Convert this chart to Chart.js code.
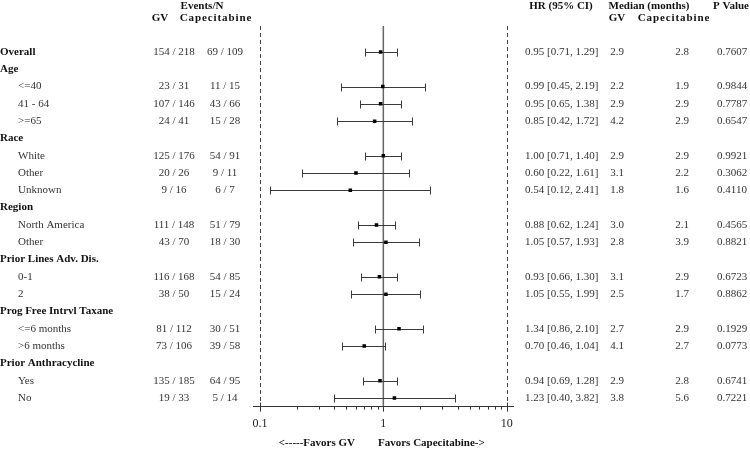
<!DOCTYPE html>
<html>
<head>
<meta charset="utf-8">
<script src="https://cdn.jsdelivr.net/npm/chart.js@4/dist/chart.umd.min.js"></script>
<style>
  html, body { margin: 0; padding: 0; background: #fff; }
  #wrap { width: 750px; height: 451px; }
</style>
</head>
<body>
<div id="wrap"><canvas id="forest" width="750" height="451"></canvas></div>
<script>
// rows of the forest plot, top to bottom
var rowLabels = ['Overall', 'Age', '<=40', '41 - 64', '>=65', 'Race', 'White', 'Other', 'Unknown',
  'Region', 'North America', 'Other', 'Prior Lines Adv. Dis.', '0-1', '2',
  'Prog Free Intrvl Taxane', '<=6 months', '>6 months', 'Prior Anthracycline', 'Yes', 'No'];
var rowBold = [1, 1, 0, 0, 0, 1, 0, 0, 0, 1, 0, 0, 1, 0, 0, 1, 0, 0, 1, 0, 0];

var hr   = [0.95, null, 0.99, 0.95, 0.85, null, 1.00, 0.60, 0.54, null, 0.88, 1.05, null, 0.93, 1.05, null, 1.34, 0.70, null, 0.94, 1.23];
var ciLo = [0.71, null, 0.45, 0.65, 0.42, null, 0.71, 0.22, 0.12, null, 0.62, 0.57, null, 0.66, 0.55, null, 0.86, 0.46, null, 0.69, 0.40];
var ciHi = [1.29, null, 2.19, 1.38, 1.72, null, 1.40, 1.61, 2.41, null, 1.24, 1.93, null, 1.30, 1.99, null, 2.10, 1.04, null, 1.28, 3.82];

var eventsGV   = ['154 / 218', '', '23 / 31', '107 / 146', '24 / 41', '', '125 / 176', '20 / 26', '9 / 16', '', '111 / 148', '43 / 70', '', '116 / 168', '38 / 50', '', '81 / 112', '73 / 106', '', '135 / 185', '19 / 33'];
var eventsCape = ['69 / 109', '', '11 / 15', '43 / 66', '15 / 28', '', '54 / 91', '9 / 11', '6 / 7', '', '51 / 79', '18 / 30', '', '54 / 85', '15 / 24', '', '30 / 51', '39 / 58', '', '64 / 95', '5 / 14'];
var medianGV   = ['2.9', '', '2.2', '2.9', '4.2', '', '2.9', '3.1', '1.8', '', '3.0', '2.8', '', '3.1', '2.5', '', '2.7', '4.1', '', '2.9', '3.8'];
var medianCape = ['2.8', '', '1.9', '2.9', '2.9', '', '2.9', '2.2', '1.6', '', '2.1', '3.9', '', '2.9', '1.7', '', '2.9', '2.7', '', '2.8', '5.6'];
var pValues    = ['0.7607', '', '0.9844', '0.7787', '0.6547', '', '0.9921', '0.3062', '0.4110', '', '0.4565', '0.8821', '', '0.6723', '0.8862', '', '0.1929', '0.0773', '', '0.6741', '0.7221'];

var tickValues = [0.1, 0.2, 0.3, 0.4, 0.5, 0.6, 0.7, 0.8, 0.9, 1, 2, 3, 4, 5, 6, 7, 8, 9, 10];
var majorTicks = [0.1, 1, 10];

var SERIF = '"Liberation Serif", "Times New Roman", serif';
var TEXT = '#333';

var points = [];
for (var i = 0; i < hr.length; i++) {
  if (hr[i] != null) points.push({ x: hr[i], y: i });
}

// reference lines + confidence interval whiskers, under the points
var whiskerPlugin = {
  id: 'whiskers',
  beforeDatasetsDraw: function (chart) {
    var ctx = chart.ctx, xs = chart.scales.x, ys = chart.scales.y, area = chart.chartArea;
    ctx.save();
    // dashed bounds at 0.1 and 10
    ctx.strokeStyle = '#444';
    ctx.lineWidth = 1;
    ctx.setLineDash([4, 3]);
    [0.1, 10].forEach(function (v) {
      var px = Math.round(xs.getPixelForValue(v)) + 0.5;
      ctx.beginPath(); ctx.moveTo(px, area.top); ctx.lineTo(px, area.bottom); ctx.stroke();
    });
    ctx.setLineDash([]);
    // line of no effect
    ctx.strokeStyle = '#666';
    ctx.lineWidth = 1.5;
    var p1 = xs.getPixelForValue(1);
    ctx.beginPath(); ctx.moveTo(p1, area.top); ctx.lineTo(p1, area.bottom); ctx.stroke();
    // whiskers
    ctx.strokeStyle = '#3a3a3a';
    ctx.lineWidth = 1;
    for (var i = 0; i < hr.length; i++) {
      if (hr[i] == null) continue;
      var y = Math.round(ys.getPixelForValue(i)) + 0.5;
      var a = Math.round(xs.getPixelForValue(ciLo[i])) + 0.5;
      var b = Math.round(xs.getPixelForValue(ciHi[i])) + 0.5;
      ctx.beginPath();
      ctx.moveTo(a, y); ctx.lineTo(b, y);
      ctx.moveTo(a, y - 4); ctx.lineTo(a, y + 4);
      ctx.moveTo(b, y - 4); ctx.lineTo(b, y + 4);
      ctx.stroke();
    }
    ctx.restore();
  },
  afterDraw: function (chart) {
    var ctx = chart.ctx, xs = chart.scales.x, ys = chart.scales.y, area = chart.chartArea;
    ctx.save();
    // axis tick marks
    ctx.strokeStyle = '#333';
    ctx.lineWidth = 1;
    tickValues.forEach(function (v) {
      var px = Math.round(xs.getPixelForValue(v)) + 0.5;
      var major = majorTicks.indexOf(v) >= 0;
      ctx.beginPath();
      ctx.moveTo(px, area.bottom - (major && v !== 1 ? 4 : 0));
      ctx.lineTo(px, area.bottom + (major ? 5 : 3));
      ctx.stroke();
    });

    ctx.textBaseline = 'middle';
    ctx.fillStyle = '#111';
    ctx.font = 'bold 11px ' + SERIF;
    // column headers
    ctx.textAlign = 'center';
    ctx.fillText('Events/N', 202, 6);
    ctx.fillText('GV', 160, 18);
    ctx.fillText('HR (95% CI)', 561, 6);
    ctx.fillText('Median (months)', 649, 6);
    ctx.fillText('GV', 617, 18);
    ctx.textAlign = 'right';
    ctx.fillText('P Value', 749, 6);
    ctx.textAlign = 'center';
    ctx.letterSpacing = '0.9px';
    ctx.fillText('Capecitabine', 216, 18);
    ctx.fillText('Capecitabine', 674, 18);
    ctx.letterSpacing = '0px';

    for (var i = 0; i < rowLabels.length; i++) {
      var y = ys.getPixelForValue(i);
      ctx.textAlign = 'left';
      if (rowBold[i]) {
        ctx.font = 'bold 11px ' + SERIF; ctx.fillStyle = '#111';
        ctx.fillText(rowLabels[i], 0, y);
      } else {
        ctx.font = '11px ' + SERIF; ctx.fillStyle = TEXT;
        ctx.fillText(rowLabels[i], 18, y);
      }
      ctx.font = '11px ' + SERIF; ctx.fillStyle = TEXT;
      ctx.textAlign = 'center';
      ctx.fillText(eventsGV[i], 174, y);
      ctx.fillText(eventsCape[i], 225, y);
      ctx.fillText(medianGV[i], 617, y);
      ctx.fillText(medianCape[i], 682, y);
      ctx.fillText(pValues[i], 732, y);
      if (hr[i] != null) {
        ctx.textAlign = 'left';
        ctx.fillText(hr[i].toFixed(2) + ' [' + ciLo[i].toFixed(2) + ', ' + ciHi[i].toFixed(2) + ']', 525, y);
      }
    }

    // favours captions under the axis
    ctx.font = 'bold 11px ' + SERIF; ctx.fillStyle = '#111';
    ctx.textAlign = 'right';
    ctx.fillText('<-----Favors GV', 355, 443);
    ctx.textAlign = 'left';
    ctx.fillText('Favors Capecitabine->', 378, 443);
    ctx.restore();
  }
};

new Chart(document.getElementById('forest'), {
  type: 'scatter',
  data: {
    datasets: [{
      data: points,
      pointStyle: 'rect',
      pointRadius: 2.5,
      pointHoverRadius: 2.5,
      backgroundColor: '#000',
      borderColor: '#000',
      borderWidth: 0
    }]
  },
  plugins: [whiskerPlugin],
  options: {
    responsive: false,
    animation: false,
    events: [],
    layout: { padding: { left: 253, right: 237, top: 26, bottom: 10 } },
    plugins: { legend: { display: false }, tooltip: { enabled: false } },
    scales: {
      x: {
        type: 'logarithmic',
        min: 0.0878,
        max: 11.25,
        afterBuildTicks: function (scale) {
          scale.ticks = tickValues.map(function (v) { return { value: v }; });
        },
        grid: { display: false, drawTicks: false },
        border: { display: true, color: '#333', width: 1 },
        ticks: {
          autoSkip: false,
          maxRotation: 0,
          padding: 10,
          color: '#222',
          font: { family: SERIF, size: 12 },
          callback: function (v) { return majorTicks.indexOf(v) >= 0 ? String(v) : ''; }
        }
      },
      y: {
        type: 'linear',
        display: false,
        reverse: true,
        min: -1.5,
        max: 20.5
      }
    }
  }
});
</script>
</body>
</html>
